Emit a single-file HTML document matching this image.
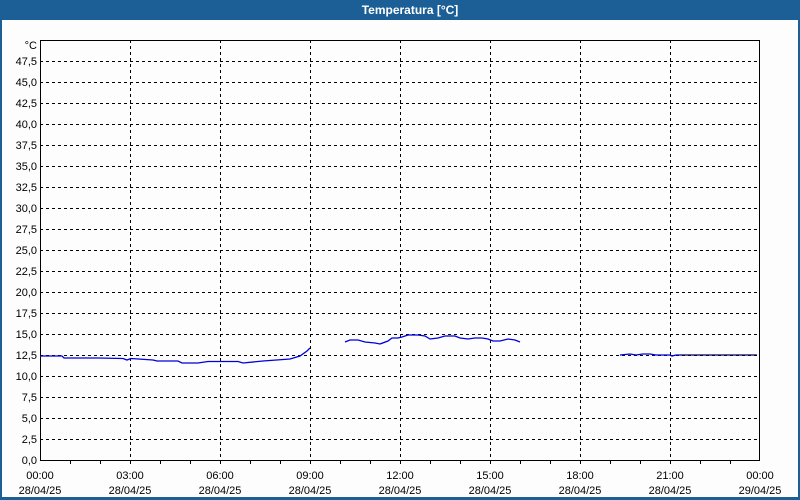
<!DOCTYPE html>
<html><head><meta charset="utf-8"><style>
html,body{margin:0;padding:0;background:#fff}
svg{display:block}
text{font-family:"Liberation Sans",sans-serif;font-size:11px;fill:#000}
</style></head><body>
<svg width="800" height="500" xmlns="http://www.w3.org/2000/svg">
<rect x="0" y="0" width="800" height="500" fill="#1c5f96"/>
<rect x="2" y="20" width="796" height="477" fill="#fcfdfc"/>
<text x="410" y="14" text-anchor="middle" fill="#fff" style="fill:#fff;font-weight:bold;font-size:12px">Temperatura [°C]</text>
<g stroke="#000" stroke-width="1" stroke-dasharray="3,3" fill="none" shape-rendering="crispEdges">
<path d="M40 61.5H760M40 82.5H760M40 103.5H760M40 124.5H760M40 145.5H760M40 166.5H760M40 187.5H760M40 208.5H760M40 229.5H760M40 250.5H760M40 271.5H760M40 292.5H760M40 313.5H760M40 334.5H760M40 355.5H760M40 376.5H760M40 397.5H760M40 418.5H760M40 439.5H760"/>
<path d="M130.5 40V460M220.5 40V460M310.5 40V460M400.5 40V460M490.5 40V460M580.5 40V460M670.5 40V460"/>
</g>
<rect x="40.5" y="40.5" width="719" height="420" fill="none" stroke="#000" shape-rendering="crispEdges"/>
<g stroke="#000" shape-rendering="crispEdges">
<path d="M70.5 460v4M100.5 460v4M160.5 460v4M190.5 460v4M250.5 460v4M280.5 460v4M340.5 460v4M370.5 460v4M430.5 460v4M460.5 460v4M520.5 460v4M550.5 460v4M610.5 460v4M640.5 460v4M700.5 460v4M730.5 460v4M130.5 460v4M220.5 460v4M310.5 460v4M400.5 460v4M490.5 460v4M580.5 460v4M670.5 460v4"/>
</g>
<g text-anchor="end">
<text x="37" y="49">°C</text>
<text x="37" y="65">47,5</text><text x="37" y="86">45,0</text><text x="37" y="107">42,5</text><text x="37" y="128">40,0</text><text x="37" y="149">37,5</text><text x="37" y="170">35,0</text><text x="37" y="191">32,5</text><text x="37" y="212">30,0</text><text x="37" y="233">27,5</text><text x="37" y="254">25,0</text><text x="37" y="275">22,5</text><text x="37" y="296">20,0</text><text x="37" y="317">17,5</text><text x="37" y="338">15,0</text><text x="37" y="359">12,5</text><text x="37" y="380">10,0</text><text x="37" y="401">7,5</text><text x="37" y="422">5,0</text><text x="37" y="443">2,5</text><text x="37" y="464">0,0</text>
</g>
<g text-anchor="middle">
<text x="40" y="479">00:00</text><text x="40" y="494">28/04/25</text>
<text x="130" y="479">03:00</text><text x="130" y="494">28/04/25</text>
<text x="220" y="479">06:00</text><text x="220" y="494">28/04/25</text>
<text x="310" y="479">09:00</text><text x="310" y="494">28/04/25</text>
<text x="400" y="479">12:00</text><text x="400" y="494">28/04/25</text>
<text x="490" y="479">15:00</text><text x="490" y="494">28/04/25</text>
<text x="580" y="479">18:00</text><text x="580" y="494">28/04/25</text>
<text x="670" y="479">21:00</text><text x="670" y="494">28/04/25</text>
<text x="760" y="479">00:00</text><text x="760" y="494">29/04/25</text>
</g>
<g fill="none" stroke="#0000e0" stroke-width="1.3">
<polyline points="40,356 62,356 64,358 98,358 123,358.5 127,360 131,358.5 153,360 157,361 178,361 182,363 198,363 208,361.5 238,361.5 243,363 263,361 290,359 300,356 307,351 310,348"/>
<polyline points="345,342 350,340 358,340 365,342 375,343 380,344 388,341 392,338 398,338 402,337 408,335 418,335 425,336 430,339 438,338 445,336 455,336 460,338 468,339 475,338 482,338 488,339 493,341 500,341 508,339 515,340 520,342"/>
<polyline points="620,355 630,354 636,355 643,354 650,354 656,355 670,355 672,356 676,355 680,355"/>
</g>
<line x1="680" y1="355" x2="757" y2="355" stroke="#000060" stroke-width="1.2"/>
</svg>
</body></html>
